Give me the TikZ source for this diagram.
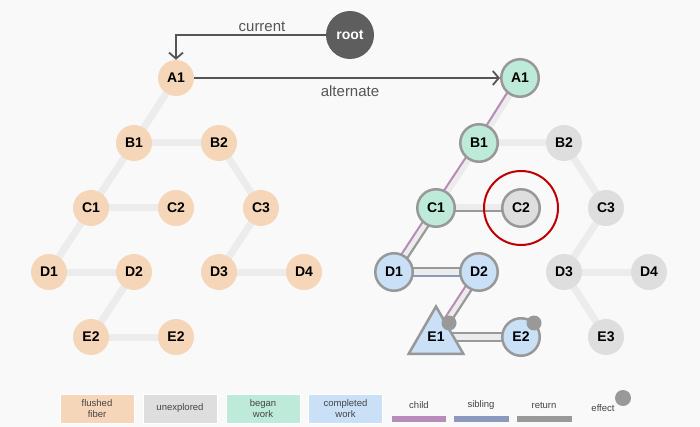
\documentclass[tikz,border=0pt]{standalone}
\usepackage{fontspec}
\setmainfont{Liberation Sans}
\usetikzlibrary{arrows.meta,shapes.geometric,calc}
\pgfdeclarelayer{back}
\pgfdeclarelayer{bg}
\pgfsetlayers{back,bg,main}
\definecolor{cbg}{HTML}{F9F9F9}
\definecolor{cflush}{HTML}{F6D6B8}
\definecolor{cunexp}{HTML}{DEDEDE}
\definecolor{cbegan}{HTML}{BEEAD9}
\definecolor{cdone}{HTML}{C9E0F6}
\definecolor{cbord}{HTML}{989898}
\definecolor{ctrack}{HTML}{ECECEC}
\definecolor{cchild}{HTML}{B78BBA}
\definecolor{csib}{HTML}{8A99BD}
\definecolor{cret}{HTML}{999999}
\definecolor{croot}{HTML}{5E5E5E}
\definecolor{carrow}{HTML}{555555}
\definecolor{cred}{HTML}{C00000}
\definecolor{ctext}{HTML}{444444}
\newcommand\offln[4]{\draw[#1] ($(#2)!#4!90:(#3)$) -- ($(#3)!#4!-90:(#2)$);}
\begin{document}
\begin{tikzpicture}[x=1pt,y=-1pt,
  fib/.style={circle,minimum size=36pt,inner sep=0pt,text=black,font=\fontsize{14}{14}\selectfont\bfseries},
  flushed/.style={fib,fill=cflush},
  unexp/.style={fib,fill=cunexp},
  brd/.style={fib,draw=cbord,line width=2.5pt,minimum size=37.5pt},
  began/.style={brd,fill=cbegan},
  done/.style={brd,fill=cdone},
  track/.style={draw=ctrack,line width=7pt},
  childln/.style={draw=cchild,line width=2pt},
  sibln/.style={draw=csib,line width=2pt},
  retln/.style={draw=cret,line width=2.2pt},
  ptr/.style={draw=carrow,line width=1.8pt,-{Straight Barb[length=6pt,width=14pt,line width=1.8pt]}},
  ptrlabel/.style={text=carrow,font=\fontsize{15}{15}\selectfont},
  effectdot/.style={circle,fill=cret,minimum size=15pt,inner sep=0pt},
  legbox/.style={rectangle,minimum width=74pt,minimum height=29pt,inner sep=0pt,align=center,text=ctext,font=\fontsize{9.5}{11}\selectfont,draw=white,line width=0.8pt},
  leglabel/.style={text=ctext,font=\fontsize{9.5}{11}\selectfont},
  legline/.style={line width=6pt}
]
\useasboundingbox (0,0) rectangle (700,427);
\begin{pgfonlayer}{back}
  \fill[cbg] (0,0) rectangle (700,427);
\end{pgfonlayer}

% root
\node[circle,fill=croot,minimum size=48pt,inner sep=0pt,text=white,font=\fontsize{14}{14}\selectfont\bfseries] (root) at (350,35) {root};

% left tree
\node[flushed] (LA1) at (176,78) {A1};
\node[flushed] (LB1) at (134,143) {B1};
\node[flushed] (LB2) at (219,143) {B2};
\node[flushed] (LC1) at (91,208) {C1};
\node[flushed] (LC2) at (176,208) {C2};
\node[flushed] (LC3) at (261,208) {C3};
\node[flushed] (LD1) at (49,272) {D1};
\node[flushed] (LD2) at (134,272) {D2};
\node[flushed] (LD3) at (219,272) {D3};
\node[flushed] (LD4) at (304,272) {D4};
\node[flushed] (LE1) at (91,337) {E2};
\node[flushed] (LE2) at (176,337) {E2};

% right tree
\node[began] (RA1) at (520,78) {A1};
\node[began] (RB1) at (479,143) {B1};
\node[unexp] (RB2) at (564,143) {B2};
\node[began] (RC1) at (436,208) {C1};
\node[brd,fill=cunexp] (RC2) at (521,208) {C2};
\node[unexp] (RC3) at (606,208) {C3};
\node[done] (RD1) at (394,272) {D1};
\node[done] (RD2) at (479,272) {D2};
\node[unexp] (RD3) at (564,272) {D3};
\node[unexp] (RD4) at (649,272) {D4};
\node[regular polygon,regular polygon sides=3,minimum size=63pt,inner sep=0pt,draw=cbord,line width=2.5pt,fill=cdone] (RE1) at (436,338) {};
\node[font=\fontsize{14}{14}\selectfont\bfseries] (RE1t) at (436,337) {E1};
\node[done] (RE2) at (521,337) {E2};
\node[unexp] (RE3) at (606,337) {E3};

\begin{pgfonlayer}{bg}
  \foreach \a/\b in {LA1/LB1,LB1/LB2,LB1/LC1,LB2/LC3,LC1/LC2,LC1/LD1,LC3/LD3,LD1/LD2,LD2/LE1,LD3/LD4,LE1/LE2,
                     RA1/RB1,RB1/RB2,RB1/RC1,RB2/RC3,RC1/RC2,RC1/RD1,RC3/RD3,RD1/RD2,RD3/RD4,RD3/RE3,RE2/RE1t}
    \draw[track] (\a.center) -- (\b.center);
  \draw[track] (RD2.center) -- (RE1.center);
  % child lines
  \offln{childln}{RA1}{RB1}{-3pt}
  \offln{childln}{RB1}{RC1}{-3pt}
  \offln{childln}{RC1}{RD1}{-3.5pt}
  \offln{childln}{RD2}{RE1}{-3.5pt}
  % return lines
  \offln{retln}{RC1}{RD1}{3.5pt}
  \offln{retln}{RD2}{RE1}{3.5pt}
  \offln{retln}{RC2}{RC1}{3pt}
  \offln{retln}{RD2}{RD1}{-4pt}
  \offln{retln}{RE2}{RE1t}{-4pt}
  \offln{retln}{RE2}{RE1t}{4pt}
  % sibling
  \offln{sibln}{RD2}{RD1}{4pt}
\end{pgfonlayer}

% pointers
\coordinate (corner) at (176,35);
\draw[ptr] (root.west) -- (corner) -- (LA1.north);
\node[ptrlabel] (lcur) at (262,27) {current};
\draw[ptr] (LA1.east) -- (RA1.west);
\node[ptrlabel] (lalt) at (350,91) {alternate};

% highlight
\node[circle,draw=cred,line width=2pt,minimum size=74pt,inner sep=0pt] (hl) at (RC2.center) {};

% effects
\node[effectdot] (ef1) at (449,323) {};
\node[effectdot] (ef2) at (534,323) {};

% legend
\node[legbox,fill=cflush] (k1) at (97,408.5) {flushed\\fiber};
\node[legbox,fill=cunexp] (k2) at (180,408.5) {unexplored};
\node[legbox,fill=cbegan] (k3) at (263,408.5) {began\\work};
\node[legbox,fill=cdone] (k4) at (345.5,408.5) {completed\\work};

\coordinate (c1a) at (392,419); \coordinate (c1b) at (446,419);
\coordinate (c2a) at (454,419); \coordinate (c2b) at (509,419);
\coordinate (c3a) at (517,419); \coordinate (c3b) at (572,419);
\draw[legline,draw=cchild] (c1a) -- (c1b);
\draw[legline,draw=csib] (c2a) -- (c2b);
\draw[legline,draw=cret] (c3a) -- (c3b);
\node[leglabel] (t1) at (419,405) {child};
\node[leglabel] (t2) at (481,405) {sibling};
\node[leglabel] (t3) at (544,405) {return};
\node[leglabel] (t4) at (603,408) {effect};
\node[circle,fill=cret,minimum size=16pt,inner sep=0pt] (ef3) at (623,398) {};
\end{tikzpicture}
\end{document}
